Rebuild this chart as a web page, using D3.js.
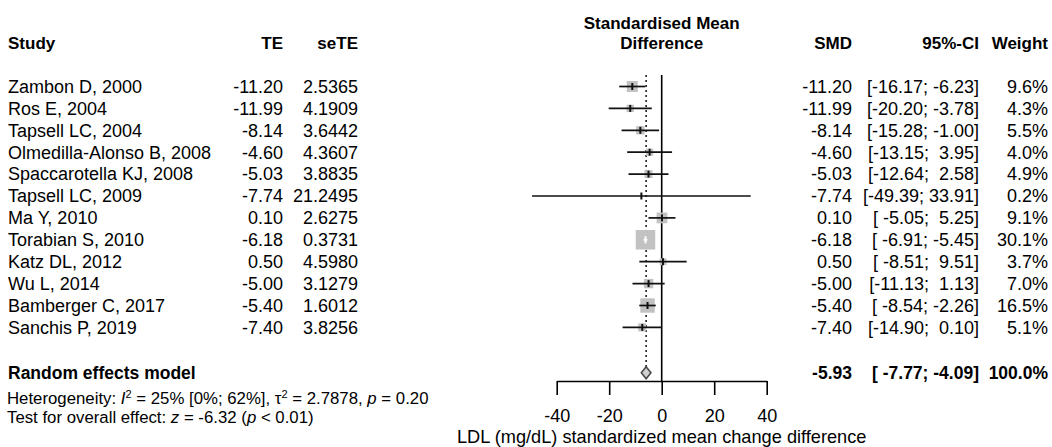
<!DOCTYPE html>
<html><head><meta charset="utf-8">
<script src="https://cdn.jsdelivr.net/npm/d3@7"></script>
<style>
body{margin:0;background:#fff;}
svg{display:block;}
text{font-family:"Liberation Sans",Arial,sans-serif;fill:#000;white-space:pre;}
</style></head>
<body><svg id="c" width="1052" height="447"></svg>
<script>
const studies = ["Zambon D, 2000","Ros E, 2004","Tapsell LC, 2004","Olmedilla-Alonso B, 2008","Spaccarotella KJ, 2008","Tapsell LC, 2009","Ma Y, 2010","Torabian S, 2010","Katz DL, 2012","Wu L, 2014","Bamberger C, 2017","Sanchis P, 2019"];
const te = [-11.20,-11.99,-8.14,-4.60,-5.03,-7.74,0.10,-6.18,0.50,-5.00,-5.40,-7.40];
const seTE = ["2.5365","4.1909","3.6442","4.3607","3.8835","21.2495","2.6275","0.3731","4.5980","3.1279","1.6012","3.8256"];
const lower = [-16.17,-20.20,-15.28,-13.15,-12.64,-49.39,-5.05,-6.91,-8.51,-11.13,-8.54,-14.90];
const upper = [-6.23,-3.78,-1.00,3.95,2.58,33.91,5.25,-5.45,9.51,1.13,-2.26,0.10];
const weight = [9.6,4.3,5.5,4.0,4.9,0.2,9.1,30.1,3.7,7.0,16.5,5.1];
const summary = {label:"Random effects model", smd:-5.93, lower:-7.77, upper:-4.09, weight:100.0};
const xTicks = [-40,-20,0,20,40];

const svg = d3.select("#c");
const x = d3.scaleLinear().domain([-40,40]).range([556.7,766.7]);
const y = d3.scaleLinear().domain([0,11]).range([86.5,327.4]);
const ySum = y(13)+1.5;
const sq = d3.scaleSqrt().domain([0,30.1]).range([0,19.5]);

const fmt2 = v=>v.toFixed(2);
const pad = (s,n)=>s.padStart(n," ");
const ciStr = (l,u)=>"["+pad(fmt2(l),6)+"; "+pad(fmt2(u),5)+"]";

function txt(xp, yp, s, opt={}){
  return svg.append("text").attr("x",xp).attr("y",yp)
    .attr("dy","0.35em")
    .attr("text-anchor",opt.anchor||"start")
    .attr("font-size",opt.size||18)
    .attr("font-weight",opt.bold?"bold":"normal")
    .text(s);
}

// headers
txt(x(0),23,"Standardised Mean",{anchor:"middle",bold:true,size:17});
txt(x(0),43,"Difference",{anchor:"middle",bold:true,size:17});
txt(8,43,"Study",{bold:true,size:17});
txt(283,43,"TE",{anchor:"end",bold:true,size:17});
txt(358,43,"seTE",{anchor:"end",bold:true,size:17});
txt(852,43,"SMD",{anchor:"end",bold:true,size:17});
txt(979,43,"95%-CI",{anchor:"end",bold:true,size:17});
txt(1048,43,"Weight",{anchor:"end",bold:true,size:17});

// rows text
studies.forEach((s,i)=>{
  const yy=y(i);
  txt(8,yy,s);
  txt(283,yy,fmt2(te[i]),{anchor:"end"});
  txt(358,yy,seTE[i],{anchor:"end"});
  txt(852,yy,fmt2(te[i]),{anchor:"end"});
  txt(979,yy,ciStr(lower[i],upper[i]),{anchor:"end"});
  txt(1048,yy,weight[i].toFixed(1)+"%",{anchor:"end"});
});

// summary text
txt(8,ySum,summary.label,{bold:true,size:17.5});
txt(852,ySum,fmt2(summary.smd),{anchor:"end",bold:true,size:17.5});
txt(979,ySum,ciStr(summary.lower,summary.upper),{anchor:"end",bold:true,size:17.5});
txt(1048,ySum,summary.weight.toFixed(1)+"%",{anchor:"end",bold:true,size:17.5});

// heterogeneity
const fs2 = 16.8;
const h = svg.append("text").attr("x",7).attr("y",ySum+25).attr("dy","0.35em").attr("font-size",fs2);
h.append("tspan").text("Heterogeneity: ");
h.append("tspan").attr("font-style","italic").text("I");
h.append("tspan").attr("font-size",11).attr("baseline-shift","super").text("2");
h.append("tspan").text(" = 25% [0%; 62%], \u03C4");
h.append("tspan").attr("font-size",11).attr("baseline-shift","super").text("2");
h.append("tspan").text(" = 2.7878, ");
h.append("tspan").attr("font-style","italic").text("p");
h.append("tspan").text(" = 0.20");
const t2 = svg.append("text").attr("x",7).attr("y",ySum+44).attr("dy","0.35em").attr("font-size",fs2);
t2.append("tspan").text("Test for overall effect: ");
t2.append("tspan").attr("font-style","italic").text("z");
t2.append("tspan").text(" = -6.32 (");
t2.append("tspan").attr("font-style","italic").text("p");
t2.append("tspan").text(" < 0.01)");

// plot
const g = svg.append("g");
const axisY = 381;
g.append("line").attr("x1",x(0)).attr("x2",x(0)).attr("y1",75).attr("y2",axisY).attr("stroke","#000").attr("stroke-width",1.6);
g.append("line").attr("x1",x(summary.smd)).attr("x2",x(summary.smd)).attr("y1",75).attr("y2",ySum-6)
  .attr("stroke","#222").attr("stroke-width",1.6).attr("stroke-dasharray","2,3");

studies.forEach((s,i)=>{
  const yy=y(i), cx=x(te[i]), side=sq(weight[i]);
  g.append("rect").attr("x",cx-side/2).attr("y",yy-side/2).attr("width",side).attr("height",side).attr("fill","#c2c2c2");
  const x1=x(lower[i]), x2=x(upper[i]);
  const inside = (x1>=cx-side/2 && x2<=cx+side/2);
  const col = inside?"#fff":"#111";
  g.append("line").attr("x1",x1).attr("x2",x2).attr("y1",yy).attr("y2",yy).attr("stroke",col).attr("stroke-width",1.7);
  g.append("line").attr("x1",cx).attr("x2",cx).attr("y1",yy-3.5).attr("y2",yy+3.5).attr("stroke",col).attr("stroke-width",2);
});

const dh=6;
g.append("path").attr("d",`M${x(summary.lower)},${ySum}L${x(summary.smd)},${ySum-dh}L${x(summary.upper)},${ySum}L${x(summary.smd)},${ySum+dh}Z`)
  .attr("fill","#d0d0d0").attr("stroke","#444").attr("stroke-width",1.5);

const ax = g.append("g").attr("transform",`translate(0,${axisY})`)
  .call(d3.axisBottom(x).tickValues(xTicks).tickSize(14).tickSizeOuter(0).tickPadding(14).tickFormat(d=>String(d)));
ax.select(".domain").attr("stroke","#000").attr("stroke-width",1.6);
ax.selectAll(".tick line").attr("stroke","#000").attr("stroke-width",1.6);
ax.selectAll(".tick text").attr("font-size",18).attr("font-family","Liberation Sans, Arial, sans-serif").attr("fill","#000");

txt(x(0),437,"LDL (mg/dL) standardized mean change difference",{anchor:"middle",size:18.2});
</script></body></html>
